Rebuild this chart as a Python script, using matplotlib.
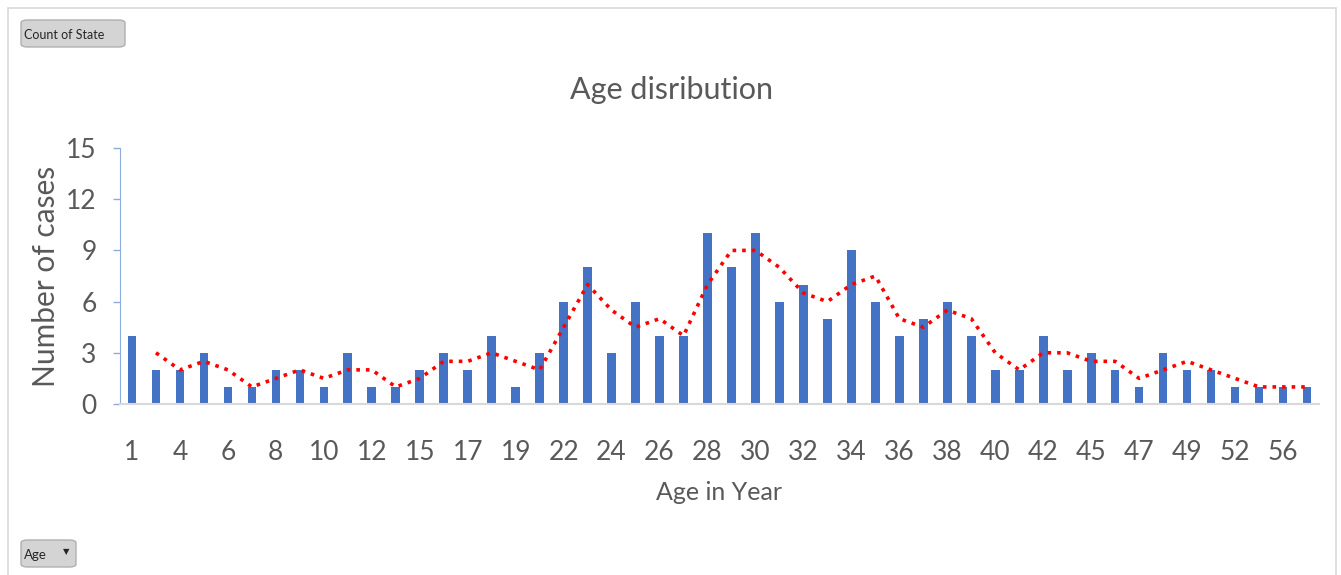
import matplotlib.pyplot as plt
import numpy as np
import pandas as pd
from matplotlib.patches import FancyBboxPatch, Rectangle

plt.rcParams['font.family'] = ['Lato', 'DejaVu Sans']

# ages (categories) and case counts
ages = [1, 2, 4, 5, 6, 7, 8, 9, 10, 11, 12, 14, 15, 16, 17, 18, 19, 21, 22, 23,
        24, 25, 26, 27, 28, 29, 30, 31, 32, 33, 34, 35, 36, 37, 38, 39, 40, 41, 42, 44,
        45, 46, 47, 48, 49, 50, 52, 54, 56, 60]
cases = [4, 2, 2, 3, 1, 1, 2, 2, 1, 3, 1, 1, 2, 3, 2, 4, 1, 3, 6, 8,
         3, 6, 4, 4, 10, 8, 10, 6, 7, 5, 9, 6, 4, 5, 6, 4, 2, 2, 4, 2,
         3, 2, 1, 3, 2, 2, 1, 1, 1, 1]
yticks = [0, 3, 6, 9, 12, 15]

# 2-period moving average trendline
trend = pd.Series(cases).rolling(2).mean()

grey = '#595959'
fig = plt.figure(figsize=(13.41, 5.75), dpi=100)

# outer frame of the pivot chart
fig.patches.append(Rectangle((8/1341, -0.01), 1328/1341, 1 - 8/575 + 0.01, transform=fig.transFigure,
                             fill=False, edgecolor='#d9d9d9', linewidth=1.2))

ax = fig.add_axes([120/1341, 1 - 404/575, 1199/1341, 256/575])
x = np.arange(len(ages))
ax.bar(x, cases, width=0.36, color='#4472C4', zorder=2)
ax.plot(x, trend, color='#ff0000', linestyle=':', linewidth=2.6, zorder=3)

ax.set_xlim(-0.5, len(ages) - 0.5)
ax.set_ylim(0, 15)
ax.set_yticks(yticks)
ax.set_xticks(x[::2])
ax.set_xticklabels([str(a) for a in ages[::2]])
ax.tick_params(axis='x', length=0, pad=26, labelsize=19, labelcolor=grey)
ax.tick_params(axis='y', length=5, width=1, color='#8faadc', pad=12, labelsize=19, labelcolor=grey)

for s in ['top', 'right']:
    ax.spines[s].set_visible(False)
ax.spines['left'].set_color('#8faadc')
ax.spines['bottom'].set_color('#d9d9d9')
ax.spines['bottom'].set_linewidth(1.5)

fig.text(672/1341, 1 - 90/575, 'Age disribution', ha='center', va='center', fontsize=22, color=grey)
fig.text(46/1341, 1 - 276/575, 'Number of cases', ha='center', va='center', rotation=90,
         fontsize=21.5, color=grey)
fig.text(719/1341, 1 - 493/575, 'Age in Year', ha='center', va='center', fontsize=18, color=grey)

# field buttons
b1 = FancyBboxPatch((21/1341, 1 - 47/575), 104/1341, 27/575, boxstyle='round,pad=0,rounding_size=0.005',
                    transform=fig.transFigure, facecolor='#d4d4d4', edgecolor='#b0b0b0', linewidth=1)
fig.patches.append(b1)
fig.text(24/1341, 1 - 35/575, 'Count of State', ha='left', va='center', fontsize=9, color='#262626')
b2 = FancyBboxPatch((21/1341, 1 - 567/575), 55/1341, 27/575, boxstyle='round,pad=0,rounding_size=0.005',
                    transform=fig.transFigure, facecolor='#d4d4d4', edgecolor='#b0b0b0', linewidth=1)
fig.patches.append(b2)
fig.text(24/1341, 1 - 555/575, 'Age', ha='left', va='center', fontsize=9.5, color='#262626')
fig.text(66/1341, 1 - 552/575, '\u25bc', ha='center', va='center', fontsize=6, color='#262626')

fig.savefig('out.png', dpi=100)
